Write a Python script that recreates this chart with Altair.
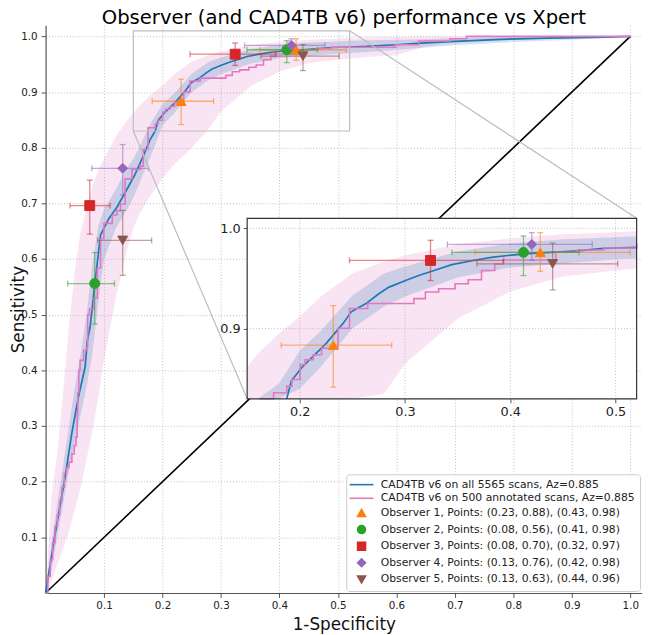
import altair as alt
import pandas as pd

FONT = "DejaVu Sans"
W, H = 603, 574
AX_MAX = 1.02

# ---------------- ROC curves ----------------
blue_fpr = [0.0, 0.0169, 0.0338, 0.045, 0.0563, 0.0676, 0.0715, 0.076, 0.080, 0.084,
            0.094, 0.108, 0.122, 0.1364, 0.153, 0.167, 0.1787, 0.1876, 0.192, 0.2017,
            0.2143, 0.2253, 0.241, 0.2488, 0.2629, 0.2754, 0.2848, 0.3005, 0.313, 0.3319,
            0.3444, 0.3633, 0.382, 0.4009, 0.4197, 0.4385, 0.4636, 0.4887, 0.52, 0.548,
            0.598, 0.643, 0.70, 0.779, 0.858, 0.959, 1.0]
blue_tpr = [0.0, 0.110, 0.211, 0.288, 0.353, 0.406, 0.454, 0.477, 0.513, 0.554,
            0.643, 0.6725, 0.693, 0.72, 0.752, 0.785, 0.8146, 0.830, 0.848, 0.861,
            0.874, 0.8855, 0.905, 0.9167, 0.925, 0.935, 0.9414, 0.948, 0.953, 0.9595,
            0.9638, 0.9677, 0.971, 0.9733, 0.975, 0.976, 0.9776, 0.980, 0.981, 0.982,
            0.985, 0.988, 0.991, 0.9946, 0.997, 0.9988, 1.0]

pink_fpr = [0.0, 0.004, 0.008, 0.012, 0.016, 0.020, 0.024, 0.028, 0.032, 0.036,
            0.040, 0.045, 0.049, 0.052, 0.054, 0.055, 0.057, 0.059, 0.065, 0.070,
            0.072, 0.075, 0.0828, 0.0885, 0.094, 0.0997, 0.114, 0.122, 0.128, 0.136,
            0.1476, 0.1617, 0.167, 0.1751, 0.1876, 0.1925, 0.2003, 0.205, 0.2128, 0.2207,
            0.2363, 0.2472, 0.2645, 0.3084, 0.3193, 0.3319, 0.3475, 0.3601, 0.3726, 0.3852,
            0.393, 0.4432, 0.4636, 0.4887, 0.598, 0.638, 0.6915, 0.72, 1.0]
pink_tpr = [0.0, 0.03, 0.06, 0.09, 0.12, 0.14, 0.165, 0.19, 0.215, 0.225,
            0.235, 0.25, 0.265, 0.28, 0.32, 0.36, 0.40, 0.418, 0.436, 0.441,
            0.50, 0.51, 0.53, 0.584, 0.637, 0.664, 0.679, 0.687, 0.699, 0.744,
            0.761, 0.767, 0.797, 0.836, 0.8427, 0.8493, 0.8641, 0.869, 0.874, 0.8805,
            0.9003, 0.92, 0.925, 0.9299, 0.9365, 0.9398, 0.9447, 0.9487, 0.958, 0.9645,
            0.9685, 0.9761, 0.9784, 0.9804, 0.985, 0.9916, 0.9958, 1.0, 1.0]

# confidence bands
band_fpr = [0.0, 0.01, 0.02, 0.03, 0.04, 0.05, 0.06, 0.07, 0.08, 0.09, 0.10, 0.12, 0.14,
            0.15, 0.16, 0.18, 0.20, 0.22, 0.25, 0.28, 0.30, 0.35, 0.40, 0.45, 0.50, 0.52,
            0.55, 0.60, 0.65, 0.70, 0.80, 0.90, 1.0]
pink_lo = [0.0, 0.02, 0.05, 0.08, 0.11, 0.15, 0.19, 0.24, 0.29, 0.35, 0.42, 0.53, 0.62,
           0.655, 0.68, 0.715, 0.745, 0.77, 0.80, 0.835, 0.865, 0.91, 0.937, 0.952, 0.958, 0.96,
           0.963, 0.966, 0.982, 0.988, 0.994, 0.998, 1.0]
pink_hi = [0.0, 0.17, 0.25, 0.36, 0.48, 0.58, 0.65, 0.69, 0.73, 0.76, 0.78, 0.82, 0.85,
           0.862, 0.875, 0.895, 0.912, 0.932, 0.955, 0.967, 0.973, 0.984, 0.990, 0.994, 0.996, 0.997,
           0.998, 0.999, 1.0, 1.0, 1.0, 1.0, 1.0]
blue_lo = [0.0, 0.04, 0.10, 0.16, 0.22, 0.27, 0.32, 0.37, 0.43, 0.52, 0.60, 0.655, 0.69,
           0.71, 0.735, 0.785, 0.84, 0.862, 0.90, 0.922, 0.932, 0.951, 0.961, 0.965, 0.969, 0.970,
           0.972, 0.976, 0.980, 0.984, 0.990, 0.994, 1.0]
blue_hi = [0.0, 0.09, 0.16, 0.23, 0.30, 0.37, 0.43, 0.50, 0.59, 0.66, 0.69, 0.725, 0.765,
           0.78, 0.80, 0.845, 0.878, 0.898, 0.933, 0.955, 0.962, 0.977, 0.985, 0.989, 0.991, 0.992,
           0.993, 0.994, 0.995, 0.997, 0.999, 1.0, 1.0]

# ---------------- observers ----------------
ROC_ALL = "CAD4TB v6 on all 5565 scans, Az=0.885"
ROC_ANN = "CAD4TB v6 on 500 annotated scans, Az=0.885"
observer_labels = [
    "Observer 1, Points: (0.23, 0.88), (0.43, 0.98)",
    "Observer 2, Points: (0.08, 0.56), (0.41, 0.98)",
    "Observer 3, Points: (0.08, 0.70), (0.32, 0.97)",
    "Observer 4, Points: (0.13, 0.76), (0.42, 0.98)",
    "Observer 5, Points: (0.13, 0.63), (0.44, 0.96)",
]
obs_fpr = [[0.2318, 0.4285], [0.084, 0.4125], [0.0755, 0.3242], [0.1319, 0.4204], [0.1319, 0.4402]]
obs_sens = [[0.8835, 0.976], [0.556, 0.976], [0.696, 0.968], [0.763, 0.984], [0.6335, 0.9646]]
obs_fpr_lo = [[0.1823, 0.3664], [0.0378, 0.3445], [0.0417, 0.2472], [0.079, 0.3402], [0.0891, 0.3683]]
obs_fpr_hi = [[0.2873, 0.5138], [0.1178, 0.4652], [0.1104, 0.3937], [0.1758, 0.4779], [0.1814, 0.502]]
obs_sens_lo = [[0.8417, 0.9572], [0.4832, 0.9529], [0.6448, 0.948], [0.7152, 0.968], [0.5708, 0.9386]]
obs_sens_hi = [[0.923, 0.9957], [0.6116, 0.9924], [0.7418, 0.9881], [0.8057, 0.9957], [0.6875, 0.9853]]

series_names = [ROC_ALL, ROC_ANN] + observer_labels
palette = ["#1f77b4", "#e377c2", "#ff7f0e", "#2ca02c", "#d62728", "#9467bd", "#8c564b"]
LINE_SYMBOL = "M-3,0L3,0"
symbols = [LINE_SYMBOL, LINE_SYMBOL, "triangle-up", "circle", "square", "diamond", "triangle-down"]

main_ticks = [0.1, 0.2, 0.3, 0.4, 0.5, 0.6, 0.7, 0.8, 0.9, 1.0]
ZOOM_FPR = [0.15, 0.52]
ZOOM_SENS = [0.83, 1.01]
inset_fpr_ticks = [0.2, 0.3, 0.4, 0.5]
inset_sens_ticks = [0.9, 1.0]
INSET_BOX = [0.338, 0.342, 0.653, 0.318]  # left, bottom, width, height (axes fraction)

BLUE, PINK = palette[0], palette[1]

# ---------------- tables ----------------
blue_df = pd.DataFrame({"fpr": blue_fpr, "tpr": blue_tpr})
pink_df = pd.DataFrame({"fpr": pink_fpr, "tpr": pink_tpr})
band_df = pd.DataFrame({"fpr": band_fpr, "pink_lo": pink_lo, "pink_hi": pink_hi,
                        "blue_lo": blue_lo, "blue_hi": blue_hi})
rows = []
for i, lab in enumerate(observer_labels):
    for j in range(2):
        rows.append(dict(series=lab, color=palette[i + 2], shape=symbols[i + 2],
                         x=obs_fpr[i][j], y=obs_sens[i][j],
                         xlo=obs_fpr_lo[i][j], xhi=obs_fpr_hi[i][j],
                         ylo=obs_sens_lo[i][j], yhi=obs_sens_hi[i][j]))
obs_df = pd.DataFrame(rows)
diag_df = pd.DataFrame({"x": [0.0, 1.0], "y": [0.0, 1.0]})
zoom_df = pd.DataFrame({"x0": [ZOOM_FPR[0]], "x1": [ZOOM_FPR[1]],
                        "y0": [ZOOM_SENS[0]], "y1": [ZOOM_SENS[1]]})
ix0 = INSET_BOX[0] * AX_MAX
ix1 = (INSET_BOX[0] + INSET_BOX[2]) * AX_MAX
iy0 = INSET_BOX[1] * AX_MAX
iy1 = (INSET_BOX[1] + INSET_BOX[3]) * AX_MAX
conn_df = pd.DataFrame({"x": [ZOOM_FPR[0], ZOOM_FPR[1]], "y": [ZOOM_SENS[0], ZOOM_SENS[1]],
                        "x2": [ix0, ix1], "y2": [iy0, iy1]})

# inset subsets
blue_in = blue_df[(blue_df.fpr >= ZOOM_FPR[0]) & (blue_df.fpr <= ZOOM_FPR[1]) &
                  (blue_df.tpr >= ZOOM_SENS[0])]
end_idx = pink_df.index[pink_df.fpr > ZOOM_FPR[1]][0]
pink_in = pink_df[(pink_df.fpr >= ZOOM_FPR[0]) & (pink_df.index <= end_idx)]
band_in = band_df[(band_df.fpr >= ZOOM_FPR[0]) & (band_df.fpr <= ZOOM_FPR[1])]
obs_in = obs_df[(obs_df.x >= ZOOM_FPR[0]) & (obs_df.x <= ZOOM_FPR[1]) &
                (obs_df.y >= ZOOM_SENS[0]) & (obs_df.y <= ZOOM_SENS[1])]
gridx_df = pd.DataFrame({"v": inset_fpr_ticks, "lo": ZOOM_SENS[0], "hi": ZOOM_SENS[1]})
gridy_df = pd.DataFrame({"v": inset_sens_ticks, "lo": ZOOM_FPR[0], "hi": ZOOM_FPR[1]})

# ---------------- scales & axes ----------------
xs = alt.Scale(domain=[0, AX_MAX], nice=False, zero=False)
ys = alt.Scale(domain=[0, AX_MAX], nice=False, zero=False)
xs_in = alt.Scale(domain=ZOOM_FPR, range=[INSET_BOX[0] * W, (INSET_BOX[0] + INSET_BOX[2]) * W],
                  nice=False, zero=False, clamp=True)
ys_in = alt.Scale(domain=ZOOM_SENS, range=[H * (1 - INSET_BOX[1]), H * (1 - INSET_BOX[1] - INSET_BOX[3])],
                  nice=False, zero=False, clamp=True)

common_axis = dict(format=".1f", labelFont=FONT, titleFont=FONT, labelColor="#222",
                   titleColor="#111", domainColor="#555", tickColor="#555",
                   domainWidth=1.2, tickWidth=1, labelFlush=False, labelOverlap=False)
ax_x = alt.Axis(values=main_ticks, title="1-Specificity", grid=True, gridDash=[1, 2],
                gridColor="#b0b0b0", gridWidth=0.8, tickSize=4.5, labelPadding=3,
                labelFontSize=10.5, titleFontSize=17, titleFontWeight="normal",
                titlePadding=6, **common_axis)
ax_y = alt.Axis(values=main_ticks, title="Sensitivity", grid=True, gridDash=[1, 2],
                gridColor="#b0b0b0", gridWidth=0.8, tickSize=4.5, labelPadding=4,
                labelFontSize=10.5, titleFontSize=17, titleFontWeight="normal",
                titleX=-22, titleY=H / 2, titleAngle=270, titleBaseline="alphabetic",
                titleAlign="center", **common_axis)
ax_xi = alt.Axis(orient="bottom", offset=-(H * INSET_BOX[1]), values=inset_fpr_ticks,
                 title=None, grid=False, domain=False, tickSize=4, labelPadding=3,
                 labelFontSize=13, **common_axis)
ax_yi = alt.Axis(orient="left", offset=-(W * INSET_BOX[0]), values=inset_sens_ticks,
                 title=None, grid=False, domain=False, tickSize=4, labelPadding=3,
                 labelFontSize=13, **common_axis)


def MX(f):
    return alt.X(f, type="quantitative", scale=xs, axis=ax_x)


def MY(f):
    return alt.Y(f, type="quantitative", scale=ys, axis=ax_y)


def IX(f):
    return alt.X(f, type="quantitative", scale=xs_in, axis=ax_xi)


def IY(f):
    return alt.Y(f, type="quantitative", scale=ys_in, axis=ax_yi)


legend = alt.Legend(
    title=None, orient="none", legendX=304, legendY=454,
    labelFont=FONT, labelFontSize=10.9, labelColor="#222", labelLimit=500,
    symbolSize=64, symbolStrokeWidth=1.6, rowPadding=1.8, padding=5,
    symbolOffset=5, labelOffset=14,
    fillColor="rgba(255,255,255,0.85)", strokeColor="#cccccc", cornerRadius=3,
)
fscale = alt.Scale(domain=series_names, range=palette)
kscale = alt.Scale(domain=series_names, range=palette)
sscale = alt.Scale(domain=series_names, range=symbols)


def observer_layers(df, X, Y, with_legend):
    caps_x = pd.concat([df.assign(cx=df.xlo), df.assign(cx=df.xhi)])
    caps_y = pd.concat([df.assign(cy=df.ylo), df.assign(cy=df.yhi)])
    col = alt.Color("color:N", scale=None)
    eb = dict(opacity=0.55)
    h = alt.Chart(df).mark_rule(strokeWidth=1.3, **eb).encode(x=X("xlo"), x2="xhi", y=Y("y"), color=col)
    v = alt.Chart(df).mark_rule(strokeWidth=1.3, **eb).encode(x=X("x"), y=Y("ylo"), y2="yhi", color=col)
    cx = alt.Chart(caps_x).mark_tick(orient="vertical", size=6, thickness=1.3, **eb).encode(
        x=X("cx"), y=Y("y"), color=col)
    cy = alt.Chart(caps_y).mark_tick(orient="horizontal", size=6, thickness=1.3, **eb).encode(
        x=X("x"), y=Y("cy"), color=col)
    if with_legend:
        enc = dict(fill=alt.Fill("series:N", scale=fscale, legend=legend),
                   stroke=alt.Stroke("series:N", scale=kscale, legend=legend),
                   shape=alt.Shape("series:N", scale=sscale, legend=legend))
    else:
        enc = dict(fill=alt.Fill("color:N", scale=None), stroke=alt.Stroke("color:N", scale=None),
                   shape=alt.Shape("shape:N", scale=None))
    p = alt.Chart(df).mark_point(filled=True, size=100, opacity=1, strokeWidth=1).encode(
        x=X("x"), y=Y("y"), **enc)
    return [h, v, cx, cy, p]


def curve_layers(bdf, bl, pl, X, Y):
    pband = alt.Chart(bdf).mark_area(color=PINK, opacity=0.2).encode(
        x=X("fpr"), y=Y("pink_lo"), y2="pink_hi")
    bband = alt.Chart(bdf).mark_area(color=BLUE, opacity=0.2).encode(
        x=X("fpr"), y=Y("blue_lo"), y2="blue_hi")
    bline = alt.Chart(bl).mark_line(color=BLUE, strokeWidth=1.7).encode(x=X("fpr"), y=Y("tpr"))
    pline = alt.Chart(pl).mark_line(color=PINK, strokeWidth=1.6, interpolate="step-after").encode(
        x=X("fpr"), y=Y("tpr"))
    return pband, bband, bline, pline


# ---------------- main panel ----------------
pband, bband, bline, pline = curve_layers(band_df, blue_df, pink_df, MX, MY)
diag = alt.Chart(diag_df).mark_line(color="black", strokeWidth=1.6).encode(x=MX("x"), y=MY("y"))
zoom_rect = alt.Chart(zoom_df).mark_rect(fillOpacity=0, stroke="#bdbdbd", strokeWidth=1.2).encode(
    x=MX("x0"), x2="x1", y=MY("y0"), y2="y1")
conn = alt.Chart(conn_df).mark_rule(color="#bdbdbd", strokeWidth=1.2).encode(
    x=MX("x"), y=MY("y"), x2="x2", y2="y2")
main = alt.layer(pband, bband, diag, bline, pline,
                 *observer_layers(obs_df, MX, MY, True), zoom_rect, conn)

# ---------------- inset ----------------
bg = alt.Chart(zoom_df).mark_rect(fill="white", strokeWidth=0).encode(
    x=IX("x0"), x2="x1", y=IY("y0"), y2="y1")
gx = alt.Chart(gridx_df).mark_rule(color="#b0b0b0", strokeWidth=0.8, strokeDash=[1, 2]).encode(
    x=IX("v"), y=IY("lo"), y2="hi")
gy = alt.Chart(gridy_df).mark_rule(color="#b0b0b0", strokeWidth=0.8, strokeDash=[1, 2]).encode(
    y=IY("v"), x=IX("lo"), x2="hi")
ipband, ibband, ibline, ipline = curve_layers(band_in, blue_in, pink_in, IX, IY)
border = alt.Chart(zoom_df).mark_rect(fillOpacity=0, stroke="#333", strokeWidth=1.2).encode(
    x=IX("x0"), x2="x1", y=IY("y0"), y2="y1")
inset = alt.layer(bg, gx, gy, ipband, ibband, ibline, ipline,
                  *observer_layers(obs_in, IX, IY, False), border)

chart = alt.layer(main, inset).resolve_scale(x="independent", y="independent").properties(
    width=W, height=H,
    title=alt.TitleParams("Observer (and CAD4TB v6) performance vs Xpert", font=FONT,
                          fontSize=19.8, fontWeight="normal", color="#000",
                          anchor="middle", frame="group", baseline="alphabetic", offset=2, dy=21),
    padding={"left": 38, "top": 14, "right": 0, "bottom": 38},
    autosize=alt.AutoSizeParams(type="none"),
).configure_view(stroke=None)

chart.save("out.html", embed_options={"renderer": "svg", "actions": False})
